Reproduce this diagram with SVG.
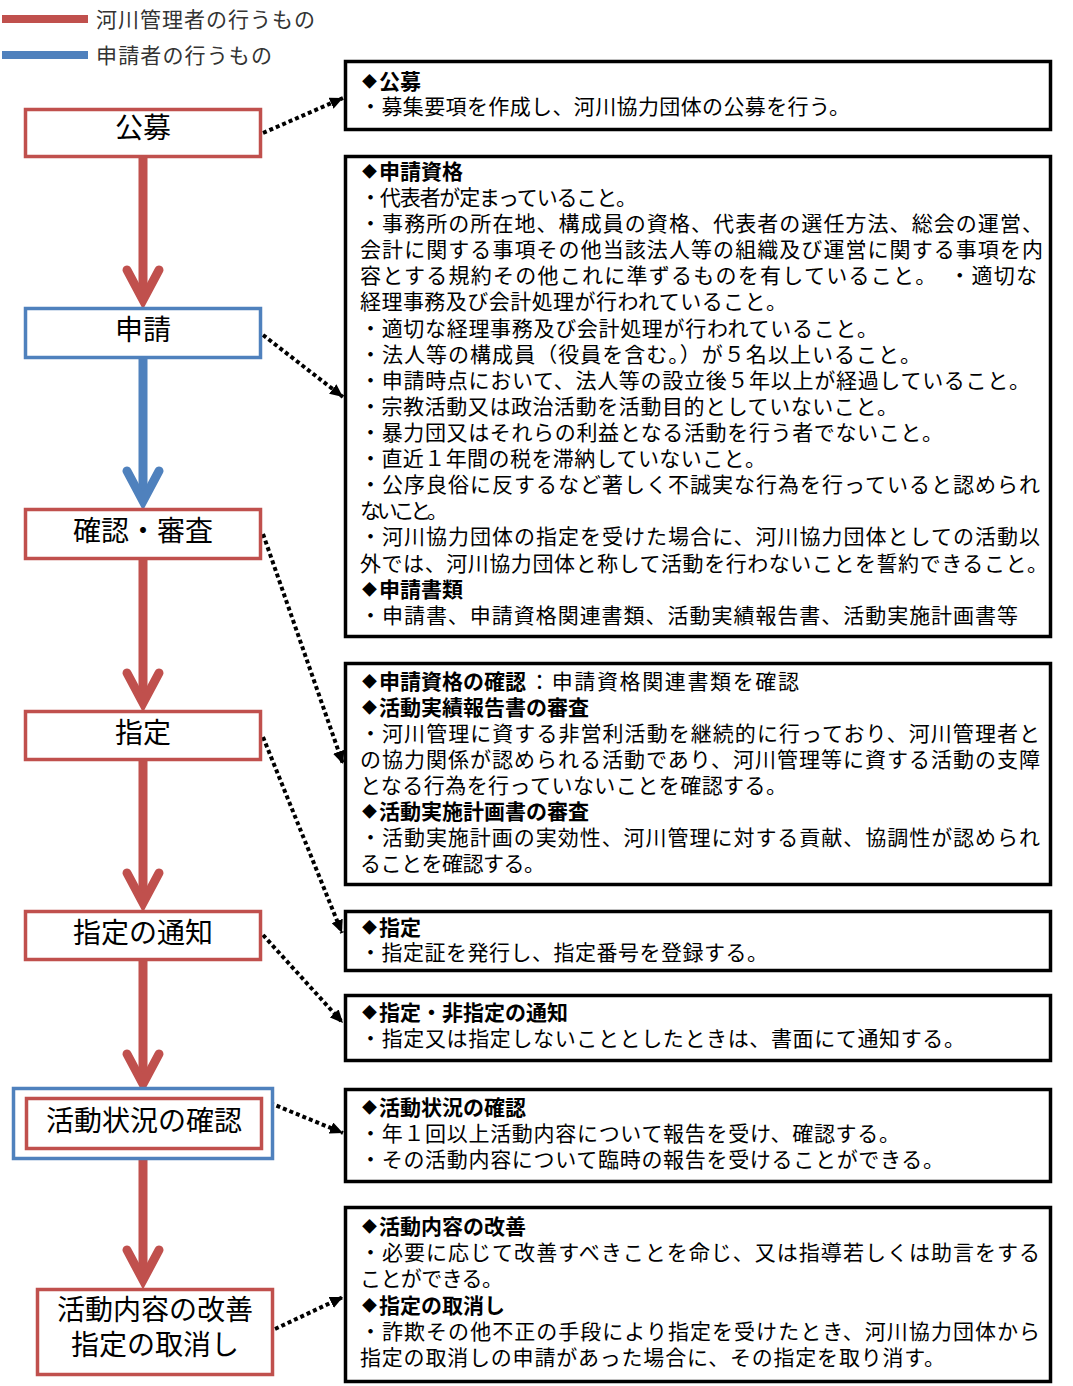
<svg xmlns="http://www.w3.org/2000/svg" width="1073" height="1386" viewBox="0 0 1073 1386">
<style>
.bg{fill:#fff}
.rbox{fill:#fff;stroke:#C0504D;stroke-width:3.5}
.bbox{fill:#fff;stroke:#4F81BD;stroke-width:3.5}
.kbox{fill:#fff;stroke:#000;stroke-width:3.5}
.lbl{font-family:"Noto Sans CJK JP","Noto Sans",sans-serif;font-size:28px;fill:#000;text-anchor:middle}
.t{font-family:"Noto Sans CJK JP","Noto Sans",sans-serif;font-size:21px;fill:#000}
.h{font-family:"Noto Sans CJK JP","Noto Sans",sans-serif;font-size:21px;font-weight:bold;fill:#000}
.dm{font-family:"Noto Sans CJK JP","Noto Sans",sans-serif;font-size:15px;fill:#000}
.leg{font-family:"Noto Sans CJK JP","Noto Sans",sans-serif;font-size:21px;fill:#333}
.shaftR{stroke:#C0504D;stroke-width:9;fill:none}
.shaftB{stroke:#4F81BD;stroke-width:9;fill:none}
.chevR{stroke:#C0504D;stroke-width:9;fill:none;stroke-linecap:round;stroke-linejoin:miter}
.chevB{stroke:#4F81BD;stroke-width:9;fill:none;stroke-linecap:round;stroke-linejoin:miter}
.dot{stroke:#000;stroke-width:4;stroke-dasharray:4 3;fill:none}
</style>
<defs>
<marker id="ah" markerUnits="userSpaceOnUse" markerWidth="14" markerHeight="12" refX="13" refY="6" orient="auto">
<path d="M0,0 L13,6 L0,12 z" fill="#000"/>
</marker>
</defs>
<rect class="bg" x="0" y="0" width="1073" height="1386"/>

<g id="legend">
<line x1="2" y1="19" x2="88" y2="19" stroke="#C0504D" stroke-width="8"/>
<text class="leg" x="96" y="27" textLength="219">河川管理者の行うもの</text>
<line x1="2" y1="55" x2="88" y2="55" stroke="#4F81BD" stroke-width="8"/>
<text class="leg" x="96" y="63" textLength="176">申請者の行うもの</text>
</g>

<g id="connectors">
<line class="shaftR" x1="143" y1="157" x2="143" y2="300"/>
<polyline class="chevR" points="127,270 143,300 159,270"/>
<line class="shaftB" x1="143" y1="359" x2="143" y2="501"/>
<polyline class="chevB" points="127,471 143,501 159,471"/>
<line class="shaftR" x1="143" y1="560" x2="143" y2="703"/>
<polyline class="chevR" points="127,673 143,703 159,673"/>
<line class="shaftR" x1="143" y1="761" x2="143" y2="903"/>
<polyline class="chevR" points="127,873 143,903 159,873"/>
<line class="shaftR" x1="143" y1="961" x2="143" y2="1084"/>
<polyline class="chevR" points="127,1054 143,1084 159,1054"/>
<line class="shaftR" x1="143" y1="1160" x2="143" y2="1280"/>
<polyline class="chevR" points="127,1250 143,1280 159,1250"/>

<line class="dot" x1="263" y1="133" x2="343" y2="98" marker-end="url(#ah)"/>
<line class="dot" x1="263" y1="335" x2="343" y2="397" marker-end="url(#ah)"/>
<line class="dot" x1="263" y1="534" x2="343" y2="764" marker-end="url(#ah)"/>
<line class="dot" x1="263" y1="737" x2="342" y2="933" marker-end="url(#ah)"/>
<line class="dot" x1="263" y1="935" x2="343" y2="1023" marker-end="url(#ah)"/>
<line class="dot" x1="270" y1="1103" x2="343" y2="1133" marker-end="url(#ah)"/>
<line class="dot" x1="275" y1="1329" x2="343" y2="1297" marker-end="url(#ah)"/>
</g>

<g id="n-koubo">
<rect class="rbox" x="25.5" y="109.5" width="235" height="47"/>
<text class="lbl" x="143" y="138">公募</text>
</g>
<g id="n-shinsei">
<rect class="bbox" x="25.5" y="308.5" width="235" height="49"/>
<text class="lbl" x="143" y="340">申請</text>
</g>
<g id="n-kakunin">
<rect class="rbox" x="25.5" y="509.5" width="235" height="49"/>
<text class="lbl" x="143" y="541">確認・審査</text>
</g>
<g id="n-shitei">
<rect class="rbox" x="25.5" y="711.5" width="235" height="48"/>
<text class="lbl" x="143" y="743">指定</text>
</g>
<g id="n-tsuchi">
<rect class="rbox" x="25.5" y="911.5" width="235" height="48"/>
<text class="lbl" x="143" y="943">指定の通知</text>
</g>
<g id="n-katsudou">
<rect class="bbox" x="13.5" y="1088.5" width="259" height="70"/>
<rect class="rbox" x="26.5" y="1098.5" width="235" height="50"/>
<text class="lbl" x="144" y="1131">活動状況の確認</text>
</g>
<g id="n-kaizen">
<rect class="rbox" x="37.5" y="1289.5" width="235" height="85"/>
<text class="lbl" x="155" y="1320">活動内容の改善</text>
<text class="lbl" x="155" y="1355">指定の取消し</text>
</g>

<g id="d-koubo">
<rect class="kbox" x="345.5" y="61.5" width="705" height="68"/>
<text class="dm" x="362" y="87">◆</text>
<text class="h" x="379" y="89">公募</text>
<text class="t" x="360" y="114" textLength="490">・募集要項を作成し、河川協力団体の公募を行う。</text>
</g>

<g id="d-shinsei">
<rect class="kbox" x="345.5" y="156.5" width="705" height="480"/>
<text class="dm" x="362" y="177">◆</text>
<text class="h" x="379" y="179">申請資格</text>
<text class="t" x="360" y="205" textLength="277">・代表者が定まっていること。</text>
<text class="t" x="360" y="231" textLength="683">・事務所の所在地、構成員の資格、代表者の選任方法、総会の運営、</text>
<text class="t" x="360" y="257" textLength="683">会計に関する事項その他当該法人等の組織及び運営に関する事項を内</text>
<text class="t" x="360" y="283" textLength="677">容とする規約その他これに準ずるものを有していること。　・適切な</text>
<text class="t" x="360" y="309" textLength="427">経理事務及び会計処理が行われていること。</text>
<text class="t" x="360" y="336" textLength="518">・適切な経理事務及び会計処理が行われていること。</text>
<text class="t" x="360" y="362" textLength="561">・法人等の構成員（役員を含む。）が５名以上いること。</text>
<text class="t" x="360" y="388" textLength="670">・申請時点において、法人等の設立後５年以上が経過していること。</text>
<text class="t" x="360" y="414" textLength="538">・宗教活動又は政治活動を活動目的としていないこと。</text>
<text class="t" x="360" y="440" textLength="583">・暴力団又はそれらの利益となる活動を行う者でないこと。</text>
<text class="t" x="360" y="466" textLength="406">・直近１年間の税を滞納していないこと。</text>
<text class="t" x="360" y="492" textLength="680">・公序良俗に反するなど著しく不誠実な行為を行っていると認められ</text>
<text class="t" x="360" y="518" textLength="88">ないこと。</text>
<text class="t" x="360" y="544" textLength="680">・河川協力団体の指定を受けた場合に、河川協力団体としての活動以</text>
<text class="t" x="360" y="571" textLength="688">外では、河川協力団体と称して活動を行わないことを誓約できること。</text>
<text class="dm" x="362" y="595">◆</text>
<text class="h" x="379" y="597">申請書類</text>
<text class="t" x="360" y="623" textLength="658">・申請書、申請資格関連書類、活動実績報告書、活動実施計画書等</text>
</g>

<g id="d-kakunin">
<rect class="kbox" x="345.5" y="663.5" width="705" height="221"/>
<text class="dm" x="362" y="687">◆</text>
<text class="h" x="379" y="689">申請資格の確認</text>
<text class="t" x="529" y="689" textLength="270">：申請資格関連書類を確認</text>
<text class="dm" x="362" y="713">◆</text>
<text class="h" x="379" y="715">活動実績報告書の審査</text>
<text class="t" x="360" y="741" textLength="680">・河川管理に資する非営利活動を継続的に行っており、河川管理者と</text>
<text class="t" x="360" y="767" textLength="680">の協力関係が認められる活動であり、河川管理等に資する活動の支障</text>
<text class="t" x="360" y="793" textLength="427">となる行為を行っていないことを確認する。</text>
<text class="dm" x="362" y="817">◆</text>
<text class="h" x="379" y="819">活動実施計画書の審査</text>
<text class="t" x="360" y="845" textLength="680">・活動実施計画の実効性、河川管理に対する貢献、協調性が認められ</text>
<text class="t" x="360" y="871" textLength="185">ることを確認する。</text>
</g>

<g id="d-shitei">
<rect class="kbox" x="345.5" y="911.5" width="705" height="59"/>
<text class="dm" x="362" y="933">◆</text>
<text class="h" x="379" y="935">指定</text>
<text class="t" x="360" y="960" textLength="408">・指定証を発行し、指定番号を登録する。</text>
</g>

<g id="d-tsuchi">
<rect class="kbox" x="345.5" y="995.5" width="705" height="65"/>
<text class="dm" x="362" y="1018">◆</text>
<text class="h" x="379" y="1020">指定・非指定の通知</text>
<text class="t" x="360" y="1046" textLength="605">・指定又は指定しないこととしたときは、書面にて通知する。</text>
</g>

<g id="d-katsudou">
<rect class="kbox" x="345.5" y="1089.5" width="705" height="92"/>
<text class="dm" x="362" y="1113">◆</text>
<text class="h" x="379" y="1115">活動状況の確認</text>
<text class="t" x="360" y="1141" textLength="540">・年１回以上活動内容について報告を受け、確認する。</text>
<text class="t" x="360" y="1167" textLength="584">・その活動内容について臨時の報告を受けることができる。</text>
</g>

<g id="d-kaizen">
<rect class="kbox" x="345.5" y="1207.5" width="705" height="174"/>
<text class="dm" x="362" y="1232">◆</text>
<text class="h" x="379" y="1234">活動内容の改善</text>
<text class="t" x="360" y="1260" textLength="680">・必要に応じて改善すべきことを命じ、又は指導若しくは助言をする</text>
<text class="t" x="360" y="1286" textLength="143">ことができる。</text>
<text class="dm" x="362" y="1311">◆</text>
<text class="h" x="379" y="1313">指定の取消し</text>
<text class="t" x="360" y="1339" textLength="680">・詐欺その他不正の手段により指定を受けたとき、河川協力団体から</text>
<text class="t" x="360" y="1365" textLength="585">指定の取消しの申請があった場合に、その指定を取り消す。</text>
</g>
</svg>
